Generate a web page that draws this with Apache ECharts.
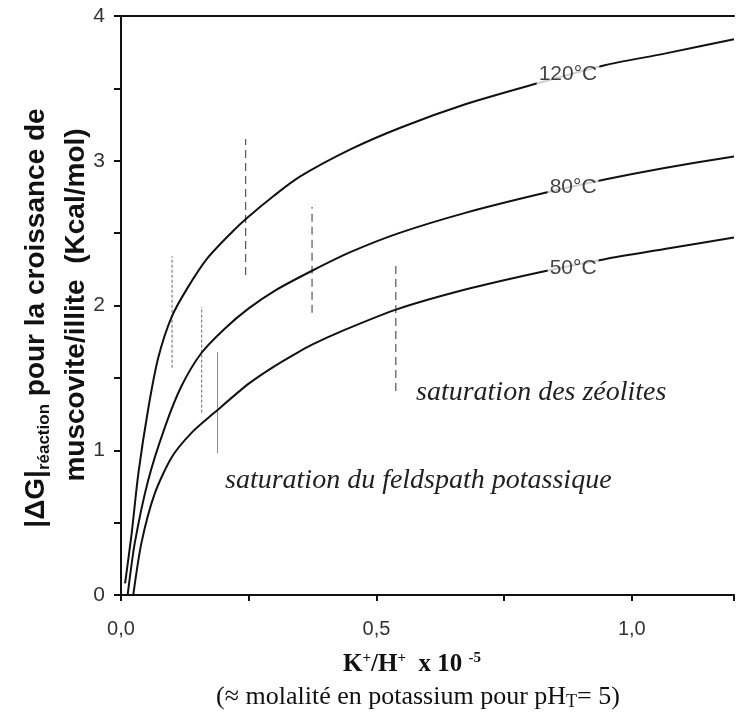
<!DOCTYPE html>
<html>
<head>
<meta charset="utf-8">
<script src="https://cdn.jsdelivr.net/npm/echarts@6/dist/echarts.min.js"></script>
<style>
  html, body { margin: 0; padding: 0; background: #ffffff; }
  #chart { width: 737px; height: 719px; }
</style>
</head>
<body>
<div id="chart"></div>
<script>
// ---- data ----
const xTickLabels = ['0,0', '0,5', '1,0'];
const yTickLabels = ['0', '1', '2', '3', '4'];

const x120 = [0.008, 0.021, 0.034, 0.053, 0.073, 0.099, 0.13, 0.17, 0.218, 0.245, 0.30, 0.35, 0.45, 0.548, 0.674, 0.80, 0.947, 1.064, 1.2];
const y120 = [0.08, 0.43, 0.84, 1.28, 1.64, 1.92, 2.12, 2.33, 2.51, 2.60, 2.76, 2.89, 3.08, 3.23, 3.39, 3.52, 3.66, 3.74, 3.84];

const x80 = [0.013, 0.027, 0.053, 0.086, 0.118, 0.157, 0.203, 0.25, 0.30, 0.374, 0.45, 0.544, 0.674, 0.82, 0.947, 1.064, 1.2];
const y80 = [0.0, 0.36, 0.79, 1.16, 1.44, 1.67, 1.84, 1.98, 2.10, 2.24, 2.37, 2.50, 2.64, 2.77, 2.87, 2.95, 3.03];

const x50 = [0.024, 0.040, 0.066, 0.099, 0.138, 0.183, 0.25, 0.30, 0.343, 0.374, 0.43, 0.537, 0.674, 0.82, 0.947, 1.064, 1.2];
const y50 = [0.0, 0.36, 0.70, 0.95, 1.12, 1.26, 1.46, 1.58, 1.67, 1.73, 1.82, 1.97, 2.11, 2.23, 2.32, 2.39, 2.47];

const curveNames = ['120°C', '80°C', '50°C'];
const curveLabelX = [0.875, 0.885, 0.885];
const curveLabelY = [3.60, 2.82, 2.26];

// vertical saturation segments
const satX = [0.10, 0.158, 0.189, 0.244, 0.374, 0.538];
const satYLow = [1.57, 1.26, 0.98, 2.21, 1.95, 1.41];
const satYHigh = [2.34, 1.99, 1.68, 3.15, 2.68, 2.30];

const annotations = ['saturation des zéolites', 'saturation du feldspath potassique'];

// ---- build chart ----
const zip = (xs, ys) => xs.map((x, i) => [x, ys[i]]);
const curves = [zip(x120, y120), zip(x80, y80), zip(x50, y50)];

const series = [];
curves.forEach((d, i) => {
  series.push({
    type: 'line', data: d, smooth: 0.25, showSymbol: false, symbol: 'none',
    lineStyle: { color: '#111', width: 2 }, z: 3, silent: true
  });
});

const satStyles = [
  { type: [3, 2], width: 1, color: '#666' },
  { type: [3, 2], width: 1, color: '#666' },
  { type: 'solid', width: 1, color: '#888' },
  { type: [8, 5], width: 1.2, color: '#555' },
  { type: [8, 5], width: 1.2, color: '#555' },
  { type: [8, 5], width: 1.2, color: '#555' }
];
satX.forEach((x, i) => {
  series.push({
    type: 'line', data: [[x, satYLow[i]], [x, satYHigh[i]]], showSymbol: false, symbol: 'none',
    lineStyle: satStyles[i], z: 2, silent: true
  });
});

series.push({
  type: 'scatter', symbolSize: 0, z: 5, silent: true,
  data: curveNames.map((n, i) => ({ value: [curveLabelX[i], curveLabelY[i]], name: n })),
  label: {
    show: true, position: 'inside', formatter: p => p.name,
    fontFamily: 'Liberation Sans, Arial, sans-serif', fontSize: 21, color: '#111',
    backgroundColor: '#fff', padding: [1, 2]
  }
});

const option = {
  animation: false,
  backgroundColor: '#fff',
  grid: { left: 121, right: 0, top: 16, bottom: 124, containLabel: false },
  xAxis: [{
    type: 'value', min: 0, max: 1.2, interval: 0.25,
    axisLine: { show: true, lineStyle: { color: '#111', width: 2 } },
    axisTick: { show: true, inside: false, length: 6, lineStyle: { color: '#111', width: 2 } },
    splitLine: { show: false },
    axisLabel: {
      margin: 24, fontFamily: 'Liberation Sans, Arial, sans-serif', fontSize: 20, color: '#333',
      formatter: v => {
        const k = Math.round(v * 2);
        if (Math.abs(v * 2 - k) > 1e-6) return '';
        return xTickLabels[k] || '';
      }
    }
  }, {
    type: 'value', position: 'top', min: 0, max: 1.2,
    axisLine: { show: true, onZero: false, lineStyle: { color: '#111', width: 2 } },
    axisTick: { show: false }, axisLabel: { show: false }, splitLine: { show: false }
  }],
  yAxis: {
    type: 'value', min: 0, max: 4, interval: 0.5,
    axisLine: { show: true, lineStyle: { color: '#111', width: 2 } },
    axisTick: { show: true, inside: false, length: 7, lineStyle: { color: '#111', width: 2 } },
    splitLine: { show: false },
    axisLabel: {
      margin: 16, fontFamily: 'Liberation Sans, Arial, sans-serif', fontSize: 21, color: '#333',
      formatter: v => {
        if (Math.abs(v - Math.round(v)) > 1e-6) return '';
        return yTickLabels[Math.round(v)] || '';
      }
    }
  },
  graphic: [
    {
      type: 'text', x: 36, y: 318, rotation: Math.PI / 2,
      style: {
        text: '{b||ΔG|}{s|réaction}{b| pour la croissance de}',
        align: 'center', verticalAlign: 'middle', fill: '#111',
        rich: {
          b: { fontFamily: 'Liberation Sans, Arial, sans-serif', fontWeight: 'bold', fontSize: 28, fill: '#111', lineHeight: 34 },
          s: { fontFamily: 'Liberation Sans, Arial, sans-serif', fontWeight: 'bold', fontSize: 17, fill: '#111', verticalAlign: 'bottom', lineHeight: 34 }
        }
      }
    },
    {
      type: 'text', x: 76, y: 305, rotation: Math.PI / 2,
      style: {
        text: 'muscovite/illite  (Kcal/mol)',
        align: 'center', verticalAlign: 'middle', fill: '#111',
        font: 'bold 28px "Liberation Sans", Arial, sans-serif'
      }
    },
    {
      type: 'text', x: 412, y: 665,
      style: {
        text: '{b|K}{sp|+}{b|/H}{sp|+}{b|  x 10 }{sp|-5}',
        align: 'center', verticalAlign: 'middle',
        rich: {
          b: { fontFamily: 'Liberation Serif, Times New Roman, serif', fontWeight: 'bold', fontSize: 25, fill: '#111', lineHeight: 28 },
          sp: { fontFamily: 'Liberation Serif, Times New Roman, serif', fontWeight: 'bold', fontSize: 15, fill: '#111', verticalAlign: 'top', lineHeight: 28 }
        }
      }
    },
    {
      type: 'text', x: 418, y: 697,
      style: {
        text: '{r|(≈ molalité en potassium pour pH}{s|T}{r|= 5)}',
        align: 'center', verticalAlign: 'middle',
        rich: {
          r: { fontFamily: 'Liberation Serif, Times New Roman, serif', fontSize: 26, fill: '#111', lineHeight: 28 },
          s: { fontFamily: 'Liberation Serif, Times New Roman, serif', fontSize: 18, fill: '#111', verticalAlign: 'bottom', lineHeight: 26 }
        }
      }
    },
    {
      type: 'text', x: 416, y: 393,
      style: {
        text: annotations[0], align: 'left', verticalAlign: 'middle', fill: '#222',
        font: 'italic 28px "Liberation Serif", "Times New Roman", serif'
      }
    },
    {
      type: 'text', x: 225, y: 481,
      style: {
        text: annotations[1], align: 'left', verticalAlign: 'middle', fill: '#222',
        font: 'italic 28px "Liberation Serif", "Times New Roman", serif'
      }
    }
  ],
  series: series
};

const chart = echarts.init(document.getElementById('chart'), null, { renderer: 'canvas' });
chart.setOption(option);
</script>
</body>
</html>
